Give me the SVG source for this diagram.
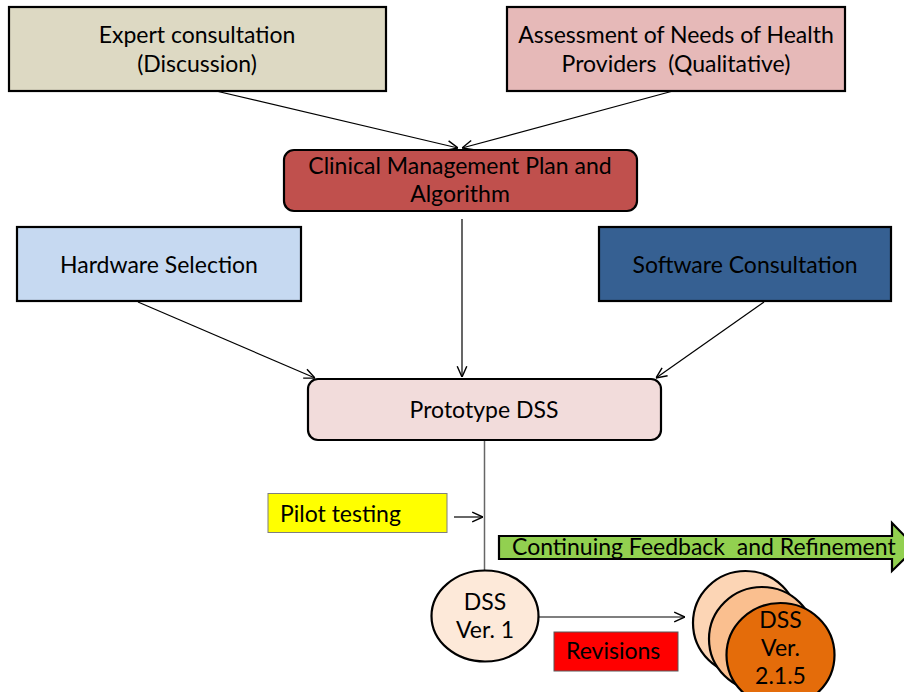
<svg xmlns="http://www.w3.org/2000/svg" width="904" height="692" viewBox="0 0 904 692">
<style>
text{font-family:Lato,"Open Sans","Liberation Sans",sans-serif;font-size:23px;fill:#000}
.c{text-anchor:middle}
.box{stroke:#000;stroke-width:2.2}
.con{stroke:#000;stroke-width:1.2;fill:none}
</style>
<defs>
<marker id="ah" markerWidth="12" markerHeight="12" refX="10" refY="5" orient="auto" markerUnits="userSpaceOnUse" viewBox="0 0 10 10">
<path d="M1,1 L10,5 L1,9" fill="none" stroke="#000" stroke-width="1.2"/>
</marker>
</defs>
<rect width="904" height="692" fill="#fff"/>
<g id="connectors">
<line class="con" x1="216" y1="91" x2="458" y2="148" marker-end="url(#ah)"/>
<line class="con" x1="673" y1="91" x2="462" y2="148" marker-end="url(#ah)"/>
<line class="con" x1="462" y1="219" x2="462" y2="377" marker-end="url(#ah)"/>
<line class="con" x1="138" y1="302" x2="315" y2="378" marker-end="url(#ah)"/>
<line class="con" x1="764" y1="302" x2="656" y2="378" marker-end="url(#ah)"/>
<line x1="484.5" y1="440" x2="484.5" y2="571" stroke="#666" stroke-width="1.5"/>
<line class="con" x1="454" y1="517" x2="483" y2="517" marker-end="url(#ah)"/>
<line class="con" x1="539" y1="617" x2="685" y2="617" marker-end="url(#ah)"/>
</g>
<g id="expert">
<rect class="box" x="9" y="7" width="377" height="84" fill="#ddd9c3"/>
<text class="c" x="197" y="43">Expert consultation</text>
<text class="c" x="197" y="72">(Discussion)</text>
</g>
<g id="assessment">
<rect class="box" x="507" y="7" width="338" height="84" fill="#e6b9b8"/>
<text class="c" x="676" y="43">Assessment of Needs of Health</text>
<text class="c" x="676" y="72" xml:space="preserve">Providers  (Qualitative)</text>
</g>
<g id="clinical">
<rect class="box" x="284" y="150" width="353" height="61" rx="10" fill="#c0504d"/>
<text class="c" x="460" y="174">Clinical Management Plan and</text>
<text class="c" x="460" y="202">Algorithm</text>
</g>
<g id="hardware">
<rect class="box" x="17" y="227" width="284" height="74" fill="#c6d9f1"/>
<text class="c" x="159" y="273">Hardware Selection</text>
</g>
<g id="software">
<rect class="box" x="599" y="227" width="292" height="74" fill="#366092"/>
<text class="c" x="745" y="273">Software Consultation</text>
</g>
<g id="prototype">
<rect class="box" x="308" y="379" width="353" height="61" rx="10" fill="#f2dcdb"/>
<text class="c" x="484" y="418">Prototype DSS</text>
</g>
<g id="pilot">
<rect x="268" y="493.5" width="179" height="39" fill="#ffff00" stroke="#7f7f7f" stroke-width="1"/>
<text x="280" y="522">Pilot testing</text>
</g>
<g id="feedback">
<path d="M499,536 L892,536 L892,523 L916,547.5 L892,571 L892,559 L499,559 Z" fill="#92d050" stroke="#000" stroke-width="2.2"/>
<text x="512" y="555" xml:space="preserve">Continuing Feedback  and Refinement</text>
</g>
<g id="dss1">
<ellipse cx="485" cy="616" rx="53.5" ry="45.5" fill="#fde9d9" stroke="#000" stroke-width="2.2"/>
<text class="c" x="485" y="610">DSS</text>
<text class="c" x="485" y="638">Ver. 1</text>
</g>
<g id="revisions">
<rect x="554" y="632" width="124" height="39" fill="#ff0000" stroke="#595959" stroke-width="1"/>
<text x="566" y="659">Revisions</text>
</g>
<g id="dss-a">
<ellipse cx="745.5" cy="623" rx="52.5" ry="52" fill="#fcd5b5" stroke="#000" stroke-width="2.2"/>
</g>
<g id="dss-b">
<ellipse cx="762" cy="639" rx="53" ry="52" fill="#fabf8f" stroke="#000" stroke-width="2.2"/>
</g>
<g id="dss-c">
<ellipse cx="780.5" cy="655" rx="54" ry="52" fill="#e46c0a" stroke="#000" stroke-width="2.2"/>
<text class="c" x="780.5" y="628">DSS</text>
<text class="c" x="780.5" y="656">Ver.</text>
<text class="c" x="780.5" y="684">2.1.5</text>
</g>
</svg>
